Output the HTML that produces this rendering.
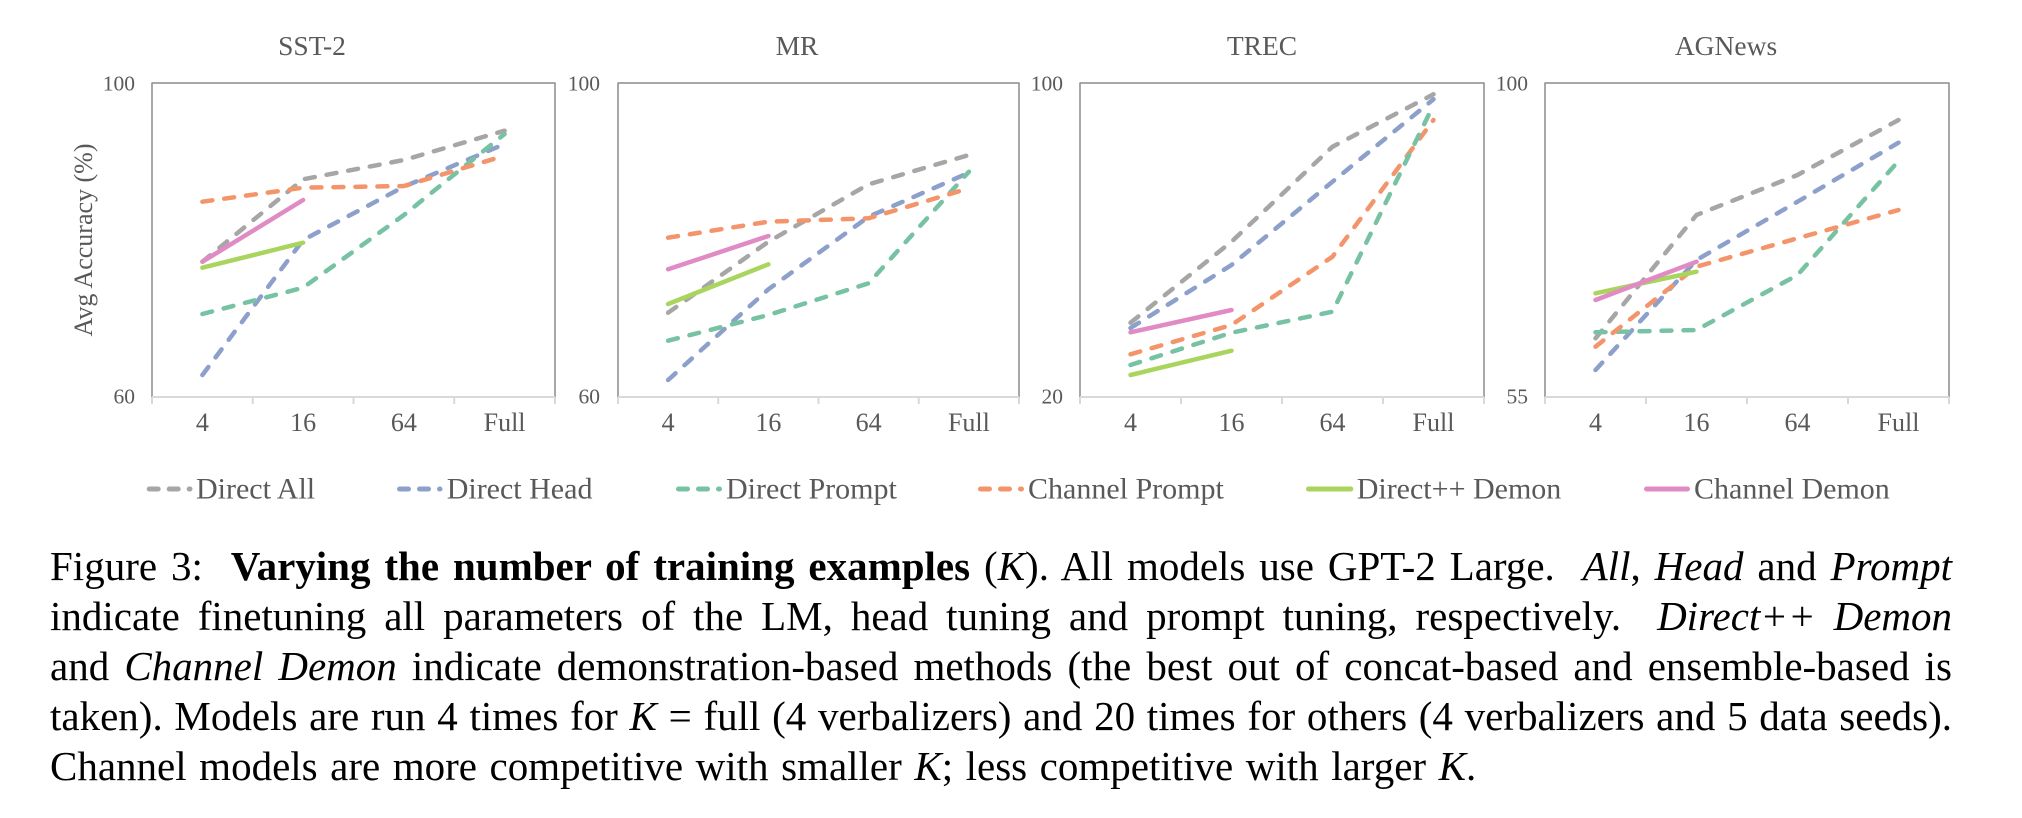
<!DOCTYPE html>
<html>
<head>
<meta charset="utf-8">
<style>
  html, body { margin:0; padding:0; background:#fff; }
  body { width:2022px; height:818px; position:relative; overflow:hidden; }
  svg { position:absolute; left:0; top:0; }
  .cap { position:absolute; left:50px; width:1902px; font-family:"Liberation Serif", serif; font-size:41px; line-height:50px; color:#000; white-space:nowrap; }
  .j { text-align:justify; text-align-last:justify; }
  .t { font-family:"Liberation Serif", serif; fill:#595959; }
</style>
</head>
<body>
<svg width="2022" height="530" viewBox="0 0 2022 530" xmlns="http://www.w3.org/2000/svg">
  <g fill="none" stroke-linecap="round" stroke-linejoin="round">
    <g stroke="#8c8c8c" stroke-width="1.5">
      <polyline points="152,397 152,83 555,83 555,397"/>
      <polyline points="618,397 618,83 1019,83 1019,397"/>
      <polyline points="1080,397 1080,83 1484,83 1484,397"/>
      <polyline points="1545,397 1545,83 1949,83 1949,397"/>
    </g>
    <g stroke="#d9d9d9" stroke-width="2" stroke-linecap="butt">
      <line x1="152" y1="397" x2="555" y2="397"/>
      <line x1="152" y1="397" x2="152" y2="404"/><line x1="252.75" y1="397" x2="252.75" y2="404"/><line x1="353.5" y1="397" x2="353.5" y2="404"/><line x1="454.25" y1="397" x2="454.25" y2="404"/><line x1="555" y1="397" x2="555" y2="404"/>
      <line x1="618" y1="397" x2="1019" y2="397"/>
      <line x1="618" y1="397" x2="618" y2="404"/><line x1="718.25" y1="397" x2="718.25" y2="404"/><line x1="818.5" y1="397" x2="818.5" y2="404"/><line x1="918.75" y1="397" x2="918.75" y2="404"/><line x1="1019" y1="397" x2="1019" y2="404"/>
      <line x1="1080" y1="397" x2="1484" y2="397"/>
      <line x1="1080" y1="397" x2="1080" y2="404"/><line x1="1181" y1="397" x2="1181" y2="404"/><line x1="1282" y1="397" x2="1282" y2="404"/><line x1="1383" y1="397" x2="1383" y2="404"/><line x1="1484" y1="397" x2="1484" y2="404"/>
      <line x1="1545" y1="397" x2="1949" y2="397"/>
      <line x1="1545" y1="397" x2="1545" y2="404"/><line x1="1646" y1="397" x2="1646" y2="404"/><line x1="1747" y1="397" x2="1747" y2="404"/><line x1="1848" y1="397" x2="1848" y2="404"/><line x1="1949" y1="397" x2="1949" y2="404"/>
    </g>

    <!-- SST-2 -->
    <g stroke-width="4.5">
      <polyline stroke="#a6a6a6" stroke-dasharray="10 12" points="202.4,261.7 303.1,179.3 403.9,160 504.6,130.7"/>
      <polyline stroke="#8da0cb" stroke-dasharray="10 12" points="202.4,375 303.1,240 403.9,186.7 504.6,144"/>
      <polyline stroke="#78c2a4" stroke-dasharray="10 12" points="202.4,314 303.1,287.7 403.9,215 504.6,134"/>
      <polyline stroke="#f4946b" stroke-dasharray="10 12" points="202.4,201.7 303.1,187.7 403.9,186 504.6,155.7"/>
      <polyline stroke="#a9d55e" points="202.4,267.7 303.1,242.7"/>
      <polyline stroke="#e08bc4" points="202.4,261.7 303.1,200"/>
    </g>
    <!-- MR -->
    <g stroke-width="4.5">
      <polyline stroke="#a6a6a6" stroke-dasharray="10 12" points="668.1,312.7 768.4,241.7 868.6,184.3 968.9,155"/>
      <polyline stroke="#8da0cb" stroke-dasharray="10 12" points="668.1,380 768.4,289.3 868.6,216.7 968.9,172.7"/>
      <polyline stroke="#78c2a4" stroke-dasharray="10 12" points="668.1,340.7 768.4,315 868.6,283.3 968.9,171.7"/>
      <polyline stroke="#f4946b" stroke-dasharray="10 12" points="668.1,237.7 768.4,221.7 868.6,218.3 968.9,188.3"/>
      <polyline stroke="#a9d55e" points="668.1,304 768.4,264.3"/>
      <polyline stroke="#e08bc4" points="668.1,269.3 768.4,236"/>
    </g>
    <!-- TREC -->
    <g stroke-width="4.5">
      <polyline stroke="#a6a6a6" stroke-dasharray="10 12" points="1130.5,322.7 1231.5,241.7 1332.5,146.7 1433.5,94.3"/>
      <polyline stroke="#8da0cb" stroke-dasharray="10 12" points="1130.5,328 1231.5,265 1332.5,181.7 1433.5,99.3"/>
      <polyline stroke="#f4946b" stroke-dasharray="10 12" points="1130.5,354.3 1231.5,325 1332.5,256.7 1433.5,120"/>
      <polyline stroke="#78c2a4" stroke-dasharray="10 12" points="1130.5,365 1231.5,332.7 1332.5,311.7 1433.5,105"/>
      <polyline stroke="#a9d55e" points="1130.5,375 1231.5,350.7"/>
      <polyline stroke="#e08bc4" points="1130.5,332.3 1231.5,310"/>
    </g>
    <!-- AGNews -->
    <g stroke-width="4.5">
      <polyline stroke="#a6a6a6" stroke-dasharray="10 12" points="1595.5,338.3 1696.5,215 1797.5,175 1898.5,120"/>
      <polyline stroke="#8da0cb" stroke-dasharray="10 12" points="1595.5,370 1696.5,260 1797.5,201.7 1898.5,142.7"/>
      <polyline stroke="#78c2a4" stroke-dasharray="10 12" points="1595.5,332.3 1696.5,330 1797.5,275 1898.5,161"/>
      <polyline stroke="#f4946b" stroke-dasharray="10 12" points="1595.5,346.7 1696.5,266.7 1797.5,238.3 1898.5,210"/>
      <polyline stroke="#a9d55e" points="1595.5,293.3 1696.5,271.7"/>
      <polyline stroke="#e08bc4" points="1595.5,300 1696.5,261.7"/>
    </g>

    <!-- Legend markers -->
    <g stroke-width="5">
      <line x1="149.2" y1="489" x2="190" y2="489" stroke="#a6a6a6" stroke-dasharray="9 11"/>
      <line x1="399.5" y1="489" x2="440" y2="489" stroke="#8da0cb" stroke-dasharray="9 11"/>
      <line x1="678.5" y1="489" x2="719.5" y2="489" stroke="#78c2a4" stroke-dasharray="9 11"/>
      <line x1="980.5" y1="489" x2="1021.5" y2="489" stroke="#f4946b" stroke-dasharray="9 11"/>
      <line x1="1308.5" y1="489" x2="1350.8" y2="489" stroke="#a9d55e"/>
      <line x1="1646.5" y1="489" x2="1687.5" y2="489" stroke="#e08bc4"/>
    </g>
  </g>

  <g class="t" font-size="27.5" text-anchor="middle">
    <text x="312" y="55">SST-2</text>
    <text x="797" y="55">MR</text>
    <text x="1262" y="55">TREC</text>
    <text x="1726" y="55">AGNews</text>
  </g>
  <g class="t" font-size="21.5" text-anchor="end">
    <text x="135" y="90.5">100</text><text x="135" y="403.5">60</text>
    <text x="600" y="90.5">100</text><text x="600" y="403.5">60</text>
    <text x="1063" y="90.5">100</text><text x="1063" y="403.5">20</text>
    <text x="1528" y="90.5">100</text><text x="1528" y="403.5">55</text>
  </g>
  <g class="t" font-size="26" text-anchor="middle">
    <text x="202.4" y="431">4</text><text x="303.1" y="431">16</text><text x="403.9" y="431">64</text><text x="504.6" y="431">Full</text>
    <text x="668.1" y="431">4</text><text x="768.4" y="431">16</text><text x="868.6" y="431">64</text><text x="968.9" y="431">Full</text>
    <text x="1130.5" y="431">4</text><text x="1231.5" y="431">16</text><text x="1332.5" y="431">64</text><text x="1433.5" y="431">Full</text>
    <text x="1595.5" y="431">4</text><text x="1696.5" y="431">16</text><text x="1797.5" y="431">64</text><text x="1898.5" y="431">Full</text>
  </g>
  <text class="t" font-size="26" text-anchor="middle" transform="translate(92,240) rotate(-90)">Avg Accuracy (%)</text>
  <g class="t" font-size="30">
    <text x="196" y="498.5">Direct All</text>
    <text x="446.7" y="498.5">Direct Head</text>
    <text x="726" y="498.5">Direct Prompt</text>
    <text x="1028" y="498.5">Channel Prompt</text>
    <text x="1356.7" y="498.5">Direct++ Demon</text>
    <text x="1694" y="498.5">Channel Demon</text>
  </g>
</svg>

<div class="cap j" style="top:541.2px">Figure 3:&nbsp; <b>Varying the number of training examples</b> (<i>K</i>). All models use GPT-2 Large.&nbsp; <i>All</i>, <i>Head</i> and <i>Prompt</i></div>
<div class="cap j" style="top:591.2px">indicate finetuning all parameters of the LM, head tuning and prompt tuning, respectively.&nbsp; <i>Direct++</i> <i>Demon</i></div>
<div class="cap j" style="top:641.2px">and <i>Channel Demon</i> indicate demonstration-based methods (the best out of concat-based and ensemble-based is</div>
<div class="cap j" style="top:691.2px">taken). Models are run 4 times for <i>K</i> = full (4 verbalizers) and 20 times for others (4 verbalizers and 5 data seeds).</div>
<div class="cap" style="top:741.2px; word-spacing:2.3px">Channel models are more competitive with smaller <i>K</i>; less competitive with larger <i>K</i>.</div>
</body>
</html>
